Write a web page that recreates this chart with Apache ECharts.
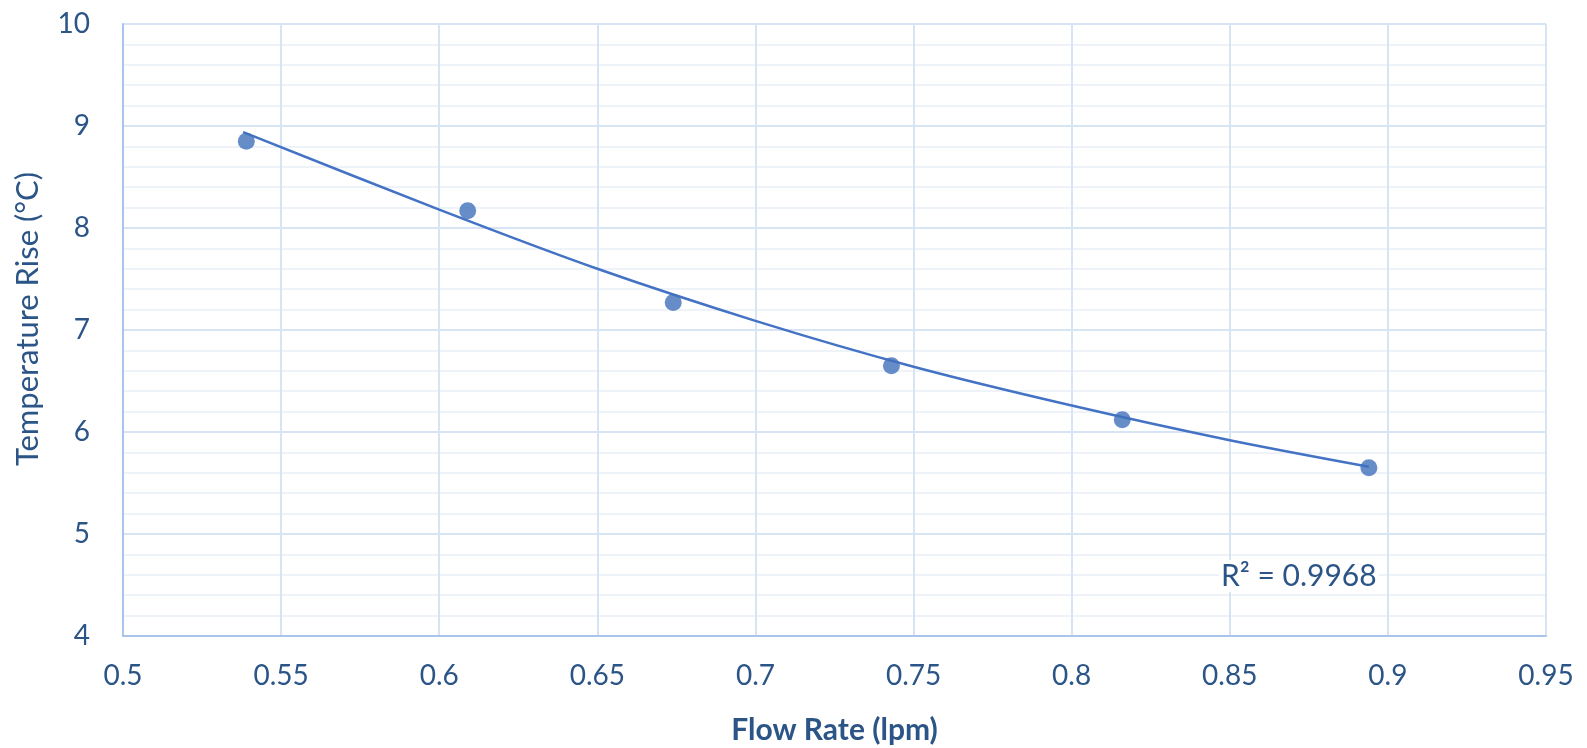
<!DOCTYPE html>
<html>
<head>
<meta charset="utf-8">
<script src="https://cdn.jsdelivr.net/npm/echarts@6/dist/echarts.min.js"></script>
<style>
  html, body { margin: 0; padding: 0; background: #fff; }
  #chart { width: 1587px; height: 748px; }
</style>
</head>
<body>
<div id="chart"></div>
<script>
  // measured points
  var flowRate = [0.539, 0.609, 0.674, 0.743, 0.816, 0.894]
  var tempRise = [8.85, 8.17, 7.27, 6.65, 6.12, 5.65]

  // trend line (Excel power fit)
  var trendX = [0.538, 0.6, 0.65, 0.7, 0.75, 0.8, 0.85, 0.894]
  var trendY = [8.94, 8.18, 7.6, 7.09, 6.64, 6.26, 5.92, 5.66]

  var rSquared = 'R² = 0.9968'

  var textColor = '#2B5487'
  var font = 'Lato, "Open Sans", sans-serif'

  var chart = echarts.init(document.getElementById('chart'))

  var option = {
    backgroundColor: '#fff',
    animation: false,
    grid: {
      left: 123,
      right: 41,
      top: 24,
      bottom: 112,
      containLabel: false,
      outerBoundsMode: 'none',
    },
    xAxis: {
      type: 'value',
      min: 0.5,
      max: 0.95,
      interval: 0.05,
      name: 'Flow Rate (lpm)',
      nameLocation: 'middle',
      nameGap: 79,
      nameTextStyle: {
        color: textColor,
        fontFamily: font,
        fontSize: 30,
        fontWeight: 'bold',
      },
      axisLine: {
        lineStyle: { color: '#A9C5EC', width: 2 },
      },
      axisTick: { show: false },
      axisLabel: {
        color: textColor,
        fontFamily: font,
        fontSize: 28,
        margin: 26,
        formatter: function (v) { return +v.toFixed(2) + '' },
      },
      splitLine: {
        show: true,
        lineStyle: { color: '#D7E4F4', width: 2 },
      },
    },
    yAxis: {
      type: 'value',
      min: 4,
      max: 10,
      interval: 1,
      name: 'Temperature Rise (°C)',
      nameLocation: 'middle',
      nameGap: 80,
      nameTextStyle: {
        color: textColor,
        fontFamily: font,
        fontSize: 31,
        padding: [0, 0, 0, 22],
      },
      axisLine: {
        show: true,
        lineStyle: { color: '#A9C5EC', width: 2 },
      },
      axisTick: { show: false },
      axisLabel: {
        color: textColor,
        fontFamily: font,
        fontSize: 28,
        margin: 33,
      },
      splitLine: {
        show: true,
        lineStyle: { color: '#D7E4F4', width: 2 },
      },
      minorTick: { show: false, splitNumber: 5 },
      minorSplitLine: {
        show: true,
        lineStyle: { color: '#EEF3FA', width: 2 },
      },
    },
    graphic: [{
      type: 'text',
      left: 1219,
      top: 560,
      z: 100,
      style: {
        text: rSquared,
        fill: textColor,
        font: '30px ' + font,
        backgroundColor: '#fff',
        padding: [1, 2, 1, 2],
      },
    }],
    series: [{
      type: 'line',
      data: trendX.map(function (x, i) { return [x, trendY[i]] }),
      smooth: 0.3,
      symbol: 'none',
      lineStyle: { color: '#4472C4', width: 2.5 },
      z: 2,
    }, {
      type: 'scatter',
      data: flowRate.map(function (x, i) { return [x, tempRise[i]] }),
      symbolSize: 17,
      itemStyle: { color: '#4171BC' },
      z: 3,
    }],
  }

  chart.setOption(option)
</script>
</body>
</html>
